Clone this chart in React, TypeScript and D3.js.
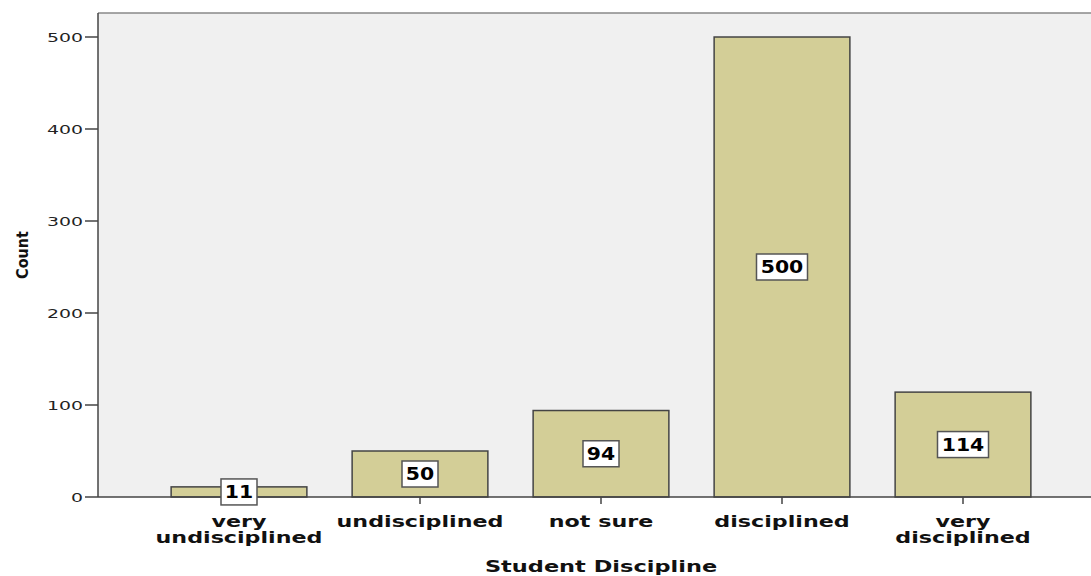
import React from "react";
import * as d3 from "d3";

const categories = ["very\nundisciplined", "undisciplined", "not sure", "disciplined", "very\ndisciplined"];
const counts = [11, 50, 94, 500, 114];
const yTicks = [0, 100, 200, 300, 400, 500];

export default function App() {
  const W = 1091, H = 576;
  const left = 98, top = 13, bottom = 497;
  const x = d3.scaleBand<string>().domain(categories).range([148.5, 1053.5]).paddingInner(0.25).paddingOuter(0.125);
  const y = d3.scaleLinear().domain([0, 500]).range([bottom, 37]);
  return (
    <svg width={W} height={H} style={{ position: "absolute", left: 0, top: 0 }}>
      <rect x={left} y={top} width={W - left} height={bottom - top} fill="#f0f0f0" />
      <line x1={left} x2={W} y1={top} y2={top} stroke="#888" strokeWidth={1.5} />
      {counts.map((v, i) => {
        const c = categories[i];
        return (
          <rect key={c} x={x(c)} y={y(v)} width={x.bandwidth()} height={bottom - y(v)} fill="#d3ce97" stroke="#444" strokeWidth={1.5} />
        );
      })}
      <line x1={left} x2={W} y1={bottom} y2={bottom} stroke="#444" strokeWidth={1.5} />
      <line x1={left} x2={left} y1={top} y2={bottom} stroke="#444" strokeWidth={1.5} />
      {yTicks.map(t => (
        <g key={t}>
          <line x1={85} x2={left} y1={y(t)} y2={y(t)} stroke="#444" strokeWidth={1.5} />
          <text transform={`translate(83,${y(t)}) scale(1.45,1)`} dy="0.36em" textAnchor="end" fontFamily="DejaVu Sans" fontSize={13} fill="#222">{t}</text>
        </g>
      ))}
      {categories.map(c => {
        const cx = (x(c) as number) + x.bandwidth() / 2;
        const lines = c.split("\n");
        return (
          <g key={c}>
            <line x1={cx} x2={cx} y1={bottom} y2={bottom + 7} stroke="#444" strokeWidth={1.5} />
            {lines.map((l, j) => (
              <text key={j} transform={`translate(${cx},${527 + j * 16}) scale(1.48,1)`} textAnchor="middle" fontFamily="DejaVu Sans" fontWeight="bold" fontSize={15} fill="#111">{l}</text>
            ))}
          </g>
        );
      })}
      {counts.map((v, i) => {
        const c = categories[i];
        const cx = (x(c) as number) + x.bandwidth() / 2;
        const cy = (y(v) + bottom) / 2;
        const label = String(v);
        const bw = label.length * 15 + 6;
        return (
          <g key={"l" + c}>
            <rect x={cx - bw / 2} y={cy - 13} width={bw} height={26} fill="#fff" stroke="#555" strokeWidth={1.5} />
            <text transform={`translate(${cx},${cy}) scale(1.2,1)`} dy="0.36em" textAnchor="middle" fontFamily="DejaVu Sans" fontWeight="bold" fontSize={17} fill="#000">{label}</text>
          </g>
        );
      })}
      <text transform={`translate(28,255) rotate(-90)`} textAnchor="middle" fontFamily="DejaVu Sans Condensed, DejaVu Sans" fontWeight="bold" fontSize={16} fill="#111">Count</text>
      <text transform="translate(601,572) scale(1.45,1)" textAnchor="middle" fontFamily="DejaVu Sans" fontWeight="bold" fontSize={15.5} fill="#111">Student Discipline</text>
    </svg>
  );
}
